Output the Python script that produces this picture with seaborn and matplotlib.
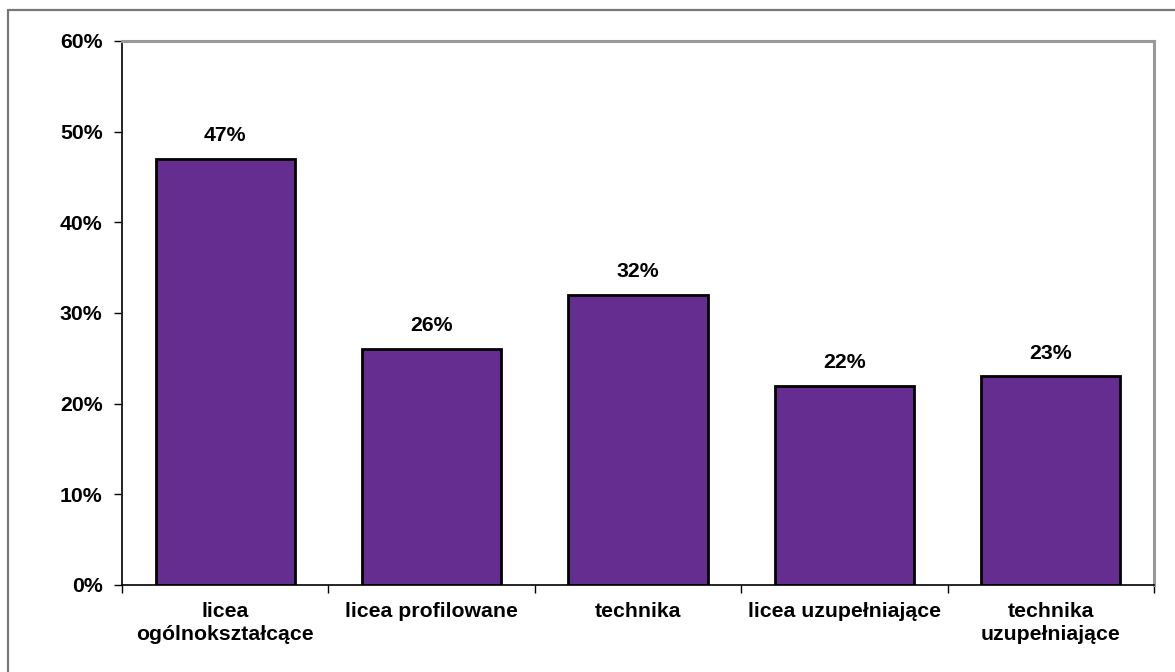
import matplotlib
matplotlib.use("Agg")
import matplotlib.pyplot as plt
import seaborn as sns
import pandas as pd
from matplotlib.lines import Line2D
from matplotlib.ticker import FixedLocator

categories = ["licea\nogólnokształcące", "licea profilowane", "technika",
              "licea uzupełniające", "technika\nuzupełniające"]
values = [47, 26, 32, 22, 23]
value_labels = ["47%", "26%", "32%", "22%", "23%"]
yticks = [0, 10, 20, 30, 40, 50, 60]
ytick_labels = ["0%", "10%", "20%", "30%", "40%", "50%", "60%"]

sns.set_theme(style="white")
plt.rcParams['font.family'] = ['Liberation Sans', 'DejaVu Sans']
plt.rcParams['font.weight'] = 'bold'

FS = 15.3

fig = plt.figure(figsize=(11.75, 6.72), dpi=100)
ax = fig.add_axes([122/1175, 1-585/672, (1154-122)/1175, (585-41)/672])

df = pd.DataFrame({"cat": categories, "val": values})
sns.barplot(data=df, x="cat", y="val", color="#662D91", saturation=1,
            width=0.675, edgecolor="black", linewidth=2, ax=ax)

ax.set_ylim(0, 60)
ax.set_xlim(-0.5, 4.5)
ax.set_yticks(yticks)
ax.set_yticklabels(ytick_labels, fontsize=FS, fontweight='bold', color='black')
ax.set_xticks(range(len(categories)))
ax.set_xticklabels(categories, fontsize=FS, fontweight='bold', color='black', linespacing=1.32)
ax.tick_params(axis='x', which='major', length=0, pad=12)
ax.xaxis.set_minor_locator(FixedLocator([-0.5, 0.5, 1.5, 2.5, 3.5, 4.5]))
ax.tick_params(axis='x', which='minor', length=6, width=1, color='black', direction='out', bottom=True)
ax.tick_params(axis='y', length=6, width=1, color='black', direction='out', left=True, pad=8)
ax.set_xlabel("")
ax.set_ylabel("")

for s in ["left", "bottom"]:
    ax.spines[s].set_color("black")
    ax.spines[s].set_linewidth(1.2)
for s in ["top", "right"]:
    ax.spines[s].set_visible(True)
    ax.spines[s].set_color("#999999")
    ax.spines[s].set_linewidth(2.2)

for i, (v, lab) in enumerate(zip(values, value_labels)):
    ax.annotate(lab, (i, v), xytext=(0, 10), textcoords="offset points",
                ha="center", va="bottom", fontsize=FS, fontweight='bold', color='black')

# outer frame
fig.add_artist(Line2D([8/1175, 8/1175], [-0.05, 1-10/672], transform=fig.transFigure,
                      color="#777777", linewidth=1.6))
fig.add_artist(Line2D([8/1175, 1.05], [1-10/672, 1-10/672], transform=fig.transFigure,
                      color="#777777", linewidth=1.6))

fig.savefig("out.png", dpi=100, facecolor="white")
